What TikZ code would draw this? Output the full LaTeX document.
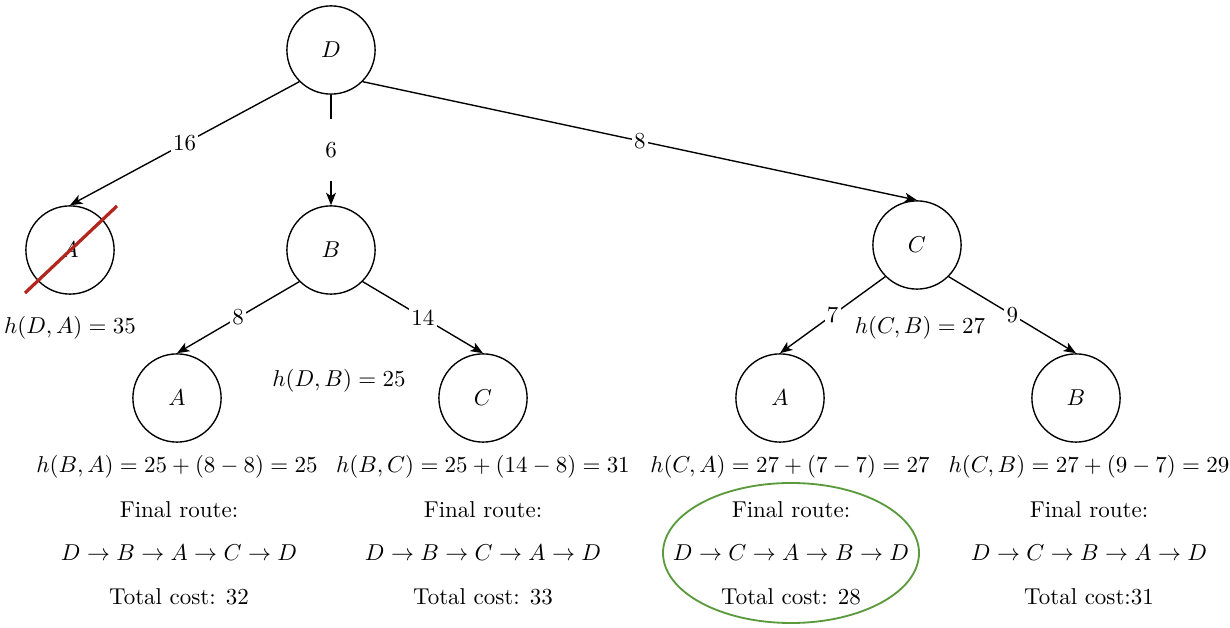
\documentclass[tikz,border=0pt]{standalone}
\usepackage{tikz}
\usepackage{xcolor}
\usetikzlibrary{arrows.meta}
\definecolor{crossred}{HTML}{B3261E}
\definecolor{bestgreen}{HTML}{5A9A3C}

\begin{document}
\begin{tikzpicture}[
  x=0.0153cm, y=-0.0153cm,
  city/.style={circle, draw, line width=0.6pt, minimum size=1.35cm, inner sep=0pt},
  arrow/.style={-{Stealth[length=1.9mm, width=1.5mm, inset=0.5mm]}, line width=0.6pt},
  cost/.style={fill=white, inner sep=1pt},
  note/.style={align=center}
]
\useasboundingbox (0,0) rectangle (1230,628);

%% Level 0: start city
\node[city] (d) at (331,50) {$D$};

%% Level 1
\node[city] (da) at (70,250) {$A$};
\node[city] (db) at (331,250) {$B$};
\node[city] (dc) at (917,245) {$C$};

%% Level 2
\node[city] (dba) at (177,398) {$A$};
\node[city] (dbc) at (483,398) {$C$};
\node[city] (dca) at (780,398) {$A$};
\node[city] (dcb) at (1076,398) {$B$};

%% Edges with costs
\draw[arrow] (d.south west) -- node[cost] {16} (da.north);
\draw[arrow] (d.south) -- node[cost, minimum height=0.95cm] {6} (db.north);
\draw[arrow] (d.south east) -- node[cost] {8} (dc.north);
\draw[arrow] (db.south west) -- node[cost] {8} (dba.north);
\draw[arrow] (db.south east) -- node[cost] {14} (dbc.north);
\draw[arrow] (dc.south west) -- node[cost] {7} (dca.north);
\draw[arrow] (dc.south east) -- node[cost] {9} (dcb.north);

%% Pruned branch
\coordinate (cutlo) at (25,293);
\coordinate (cuthi) at (117,206);
\draw[crossred, line width=1.4pt] (cutlo) -- (cuthi);

%% Heuristic values
\node (hda) at (70,328) {$h(D,A) = 35$};
\node (hdb) at (339,381) {$h(D,B) = 25$};
\node (hcb) at (920,328) {$h(C,B) = 27$};

\node (hba) at (177,467) {$h(B,A) = 25 + (8-8) = 25$};
\node (hbc) at (483,467) {$h(B,C) = 25 + (14-8) = 31$};
\node (hca) at (790,467) {$h(C,A) = 27 + (7-7) = 27$};
\node (hcbb) at (1089,467) {$h(C,B) = 27 + (9-7) = 29$};

%% Final routes
\node[note] (r1) at (179,553) {Final route:\\[1.6ex] $D \to B \to A \to C \to D$\\[1.6ex] Total cost: 32};
\node[note] (r2) at (483,553) {Final route:\\[1.6ex] $D \to B \to C \to A \to D$\\[1.6ex] Total cost: 33};
\node[note] (r3) at (791,553) {Final route:\\[1.6ex] $D \to C \to A \to B \to D$\\[1.6ex] Total cost: 28};
\node[note] (r4) at (1089,553) {Final route:\\[1.6ex] $D \to C \to B \to A \to D$\\[1.6ex] Total cost:31};

%% Best route
\draw[bestgreen, line width=0.8pt] (r3.center) ellipse [x radius=128, y radius=70];

\end{tikzpicture}
\end{document}
